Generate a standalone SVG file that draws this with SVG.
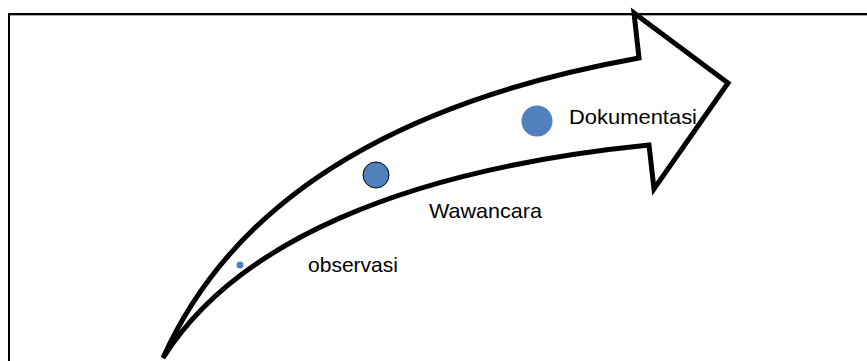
<svg xmlns="http://www.w3.org/2000/svg" width="867" height="361" viewBox="0 0 867 361">
  <style>
    .lbl { font-family: "Liberation Sans", Arial, sans-serif; font-size: 21px; fill: #000; }
    .dot { fill: #4F81BD; }
  </style>
  <rect width="867" height="361" fill="#fff"/>
  <g id="frame">
    <line x1="8" y1="15.4" x2="867" y2="15.4" stroke="#888" stroke-width="0.8"/>
    <line x1="8" y1="14" x2="867" y2="14" stroke="#000" stroke-width="1.8"/>
    <line x1="9" y1="13.1" x2="9" y2="361" stroke="#000" stroke-width="2"/>
  </g>
  <g id="arrow">
    <path d="M163,358 C231,206 385,103.5 639,58 L634,13 L728,83 L654,189 L649,145 C400,170 235,244 163,358 Z" fill="none" stroke="#000" stroke-width="5" stroke-linejoin="miter" stroke-miterlimit="10"/>
  </g>
  <g id="observasi">
    <circle class="dot" cx="240" cy="265" r="3.5"/>
    <text class="lbl" x="308" y="272" textLength="90" lengthAdjust="spacingAndGlyphs">observasi</text>
  </g>
  <g id="wawancara">
    <circle class="dot" cx="376" cy="175" r="13" stroke="#000" stroke-width="1"/>
    <text class="lbl" x="429" y="218" textLength="113" lengthAdjust="spacingAndGlyphs">Wawancara</text>
  </g>
  <g id="dokumentasi">
    <circle class="dot" cx="537" cy="121" r="15.5"/>
    <text class="lbl" x="569" y="124" textLength="128" lengthAdjust="spacingAndGlyphs">Dokumentasi</text>
  </g>
</svg>
